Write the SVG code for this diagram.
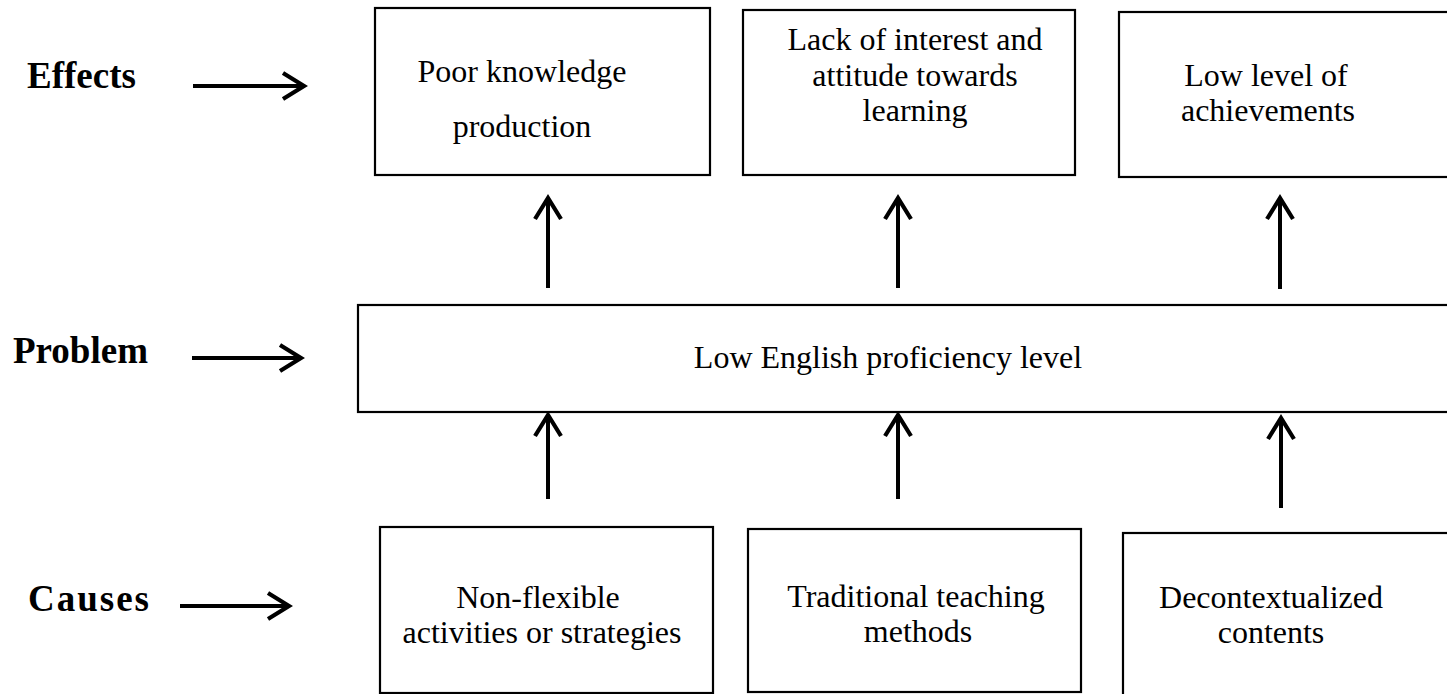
<svg xmlns="http://www.w3.org/2000/svg" width="1447" height="694" viewBox="0 0 1447 694">
<style>
.box{fill:#fff;stroke:#000;stroke-width:2.2}
.t{font-family:"Liberation Serif","Times New Roman",serif;font-size:32px;fill:#000;text-anchor:middle}
.lbl{font-family:"Liberation Serif","Times New Roman",serif;font-size:37px;font-weight:bold;fill:#000}
.arr{stroke:#000;stroke-width:4;fill:none;marker-end:url(#head)}
</style>
<defs>
<marker id="head" markerUnits="userSpaceOnUse" viewBox="-28 -18 32 36" markerWidth="32" markerHeight="36" refX="0" refY="0" orient="auto">
<path d="M-21,-13 L0,0 L-21,13" fill="none" stroke="#000" stroke-width="4.2" stroke-linejoin="miter"/>
</marker>
</defs>
<rect width="1447" height="694" fill="#fff"/>
<g id="labels">
<text class="lbl" x="27" y="88">Effects</text>
<text class="lbl" x="13" y="363">Problem</text>
<text class="lbl" x="28" y="611" letter-spacing="2">Causes</text>
</g>
<g id="effect1"><rect class="box" x="375" y="8" width="335" height="167"/><text class="t" x="522" y="82">Poor knowledge</text><text class="t" x="522" y="137">production</text></g>
<g id="effect2"><rect class="box" x="743" y="10" width="332" height="165"/><text class="t" x="915" y="50">Lack of interest and</text><text class="t" x="915" y="86">attitude towards</text><text class="t" x="915" y="121">learning</text></g>
<g id="effect3"><rect class="box" x="1119" y="12" width="340" height="165"/><text class="t" x="1266" y="86">Low level of</text><text class="t" x="1268" y="121">achievements</text></g>
<g id="problem"><rect class="box" x="358" y="305" width="1100" height="107"/><text class="t" x="888" y="368">Low English proficiency level</text></g>
<g id="cause1"><rect class="box" x="380" y="527" width="333" height="166"/><text class="t" x="538" y="608">Non-flexible</text><text class="t" x="542" y="643">activities or strategies</text></g>
<g id="cause2"><rect class="box" x="748" y="529" width="333" height="163"/><text class="t" x="916" y="607">Traditional teaching</text><text class="t" x="918" y="642">methods</text></g>
<g id="cause3"><rect class="box" x="1123" y="533" width="340" height="170"/><text class="t" x="1271" y="608">Decontextualized</text><text class="t" x="1271" y="643">contents</text></g>
<g id="connectors">
<line class="arr" x1="193" y1="86" x2="304" y2="86"/>
<line class="arr" x1="192" y1="358" x2="301" y2="358"/>
<line class="arr" x1="180" y1="606" x2="289" y2="606"/>
<line class="arr" x1="548" y1="288" x2="548" y2="198"/>
<line class="arr" x1="898" y1="288" x2="898" y2="198"/>
<line class="arr" x1="1280" y1="289" x2="1280" y2="198"/>
<line class="arr" x1="548" y1="499" x2="548" y2="415"/>
<line class="arr" x1="898" y1="499" x2="898" y2="415"/>
<line class="arr" x1="1281" y1="508" x2="1281" y2="418"/>
</g>
</svg>
